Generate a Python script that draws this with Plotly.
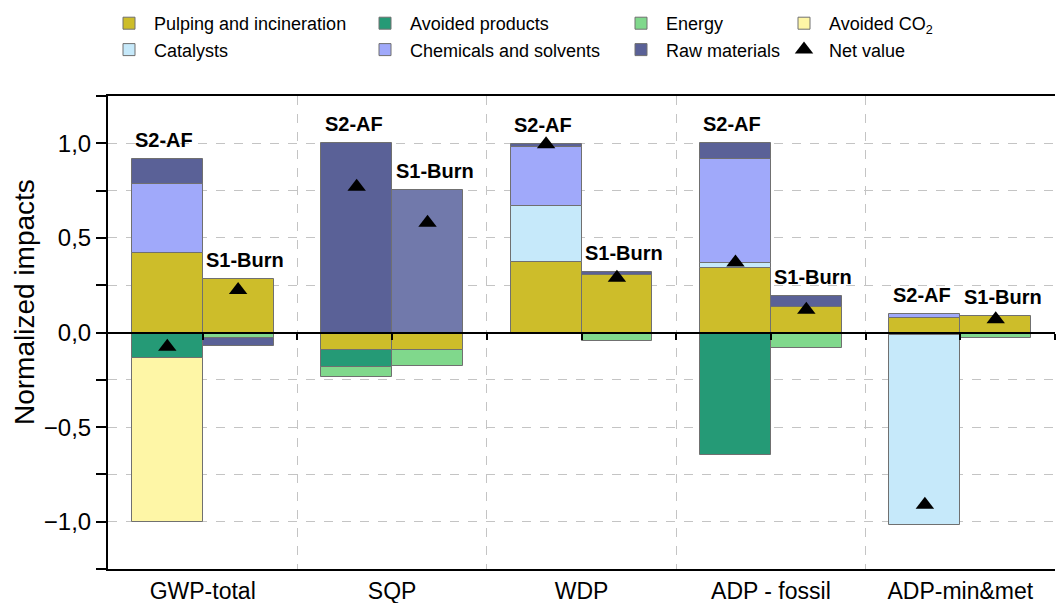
import numpy as np
import plotly.graph_objects as go

# Impact categories and the two scenarios compared in each
categories = ["GWP-total", "SQP", "WDP", "ADP - fossil", "ADP-min&met"]
scenarios = ["S2-AF", "S1-Burn"]

# Normalized contributions per process group (None = no contribution)
pulping_s2 = [0.418, -0.093, 0.372, 0.340, 0.077]
pulping_s1 = [0.285, -0.090, 0.305, 0.135, 0.085]

avoided_products_s2 = [-0.137, -0.090, None, -0.650, None]
avoided_products_s1 = [None, None, None, None, None]

energy_s2 = [None, -0.053, None, None, -0.015]
energy_s1 = [-0.030, -0.087, -0.045, -0.083, -0.030]

avoided_co2_s2 = [-0.863, None, None, None, None]
avoided_co2_s1 = [None, None, None, None, None]

catalysts_s2 = [None, None, 0.296, 0.025, -1.005]
catalysts_s1 = [None, None, None, None, None]

chemicals_s2 = [0.365, None, 0.312, 0.550, 0.021]
chemicals_s1 = [None, None, None, None, None]

raw_materials_s2 = [0.132, 1.000, 0.015, 0.085, None]
raw_materials_s1 = [-0.040, 0.751, 0.015, 0.058, None]

net_value_s2 = [-0.075, 0.770, 0.995, 0.370, -0.910]
net_value_s1 = [0.225, 0.580, 0.290, 0.120, 0.070]

# Bar layout within each category slot
BAR_W = 0.374
n = len(categories)
idx = np.arange(n)
x_s2 = idx - BAR_W / 2
x_s1 = idx + BAR_W / 2
x_all = np.concatenate([x_s2, x_s1])

FONT = "Liberation Sans, Arial, sans-serif"
OUTLINE = dict(color="#707070", width=1)

components = [
    ("Pulping and incineration", pulping_s2, pulping_s1, "#CDBD2A", "legend"),
    ("Avoided products", avoided_products_s2, avoided_products_s1, "#259A76", "legend2"),
    ("Energy", energy_s2, energy_s1, "#80D88C", "legend3"),
    ("Avoided CO<sub>2</sub>", avoided_co2_s2, avoided_co2_s1, "#FEF6A6", "legend4"),
    ("Catalysts", catalysts_s2, catalysts_s1, "#C6E9FA", "legend"),
    ("Chemicals and solvents", chemicals_s2, chemicals_s1, "#A0A9FA", "legend2"),
    ("Raw materials", raw_materials_s2, raw_materials_s1, "#5A6197", "legend3"),
]

fig = go.Figure()

for name, s2, s1, color, leg in components:
    colors = [color] * (2 * n)
    if name == "Raw materials":
        # the S1-Burn soil-quality bar is drawn in a lighter shade
        colors[n + categories.index("SQP")] = "#7179AB"
    fig.add_trace(go.Bar(
        x=x_all, y=list(s2) + list(s1), width=BAR_W,
        name=name, legend=leg,
        marker=dict(color=colors, line=OUTLINE),
    ))

fig.add_trace(go.Scatter(
    x=x_all, y=net_value_s2 + net_value_s1, xaxis="x2",
    mode="markers", name="Net value", legend="legend4",
    marker=dict(symbol="triangle-up", size=16, color="black"),
))

# Scenario labels above the positive stack of each bar
def pos_top(cols):
    arr = np.array([[v if (v is not None and v > 0) else 0 for v in c] for c in cols])
    return arr.sum(axis=0)

top_s2 = pos_top([c[1] for c in components])
top_s1 = pos_top([c[2] for c in components])
for i in range(n):
    for xv, top, lab, xs in ((x_s2[i], top_s2[i], scenarios[0], -3),
                              (x_s1[i], top_s1[i], scenarios[1], 7)):
        fig.add_annotation(x=xv, y=top, text=f"<b>{lab}</b>", showarrow=False,
                           yanchor="bottom", yshift=6, xshift=xs,
                           font=dict(size=20, color="black", family=FONT))

L, R, T, B = 108, 1, 96, 34
PW = 1056 - L - R
PH = 603 - T - B

def px_x(p):
    return (p - L) / PW

def px_y(p):
    return (603 - B - p) / PH

fig.add_annotation(text="Normalized impacts", textangle=-90, showarrow=False,
                   xref="paper", yref="paper", x=px_x(24), y=px_y(302),
                   xanchor="center", yanchor="middle",
                   font=dict(size=28, color="black", family=FONT))

grid = dict(gridcolor="#c4c4c4", griddash="dash", gridwidth=1)

fig.update_layout(
    width=1056, height=603,
    margin=dict(l=L, r=R, t=T, b=B, autoexpand=False),
    paper_bgcolor="white", plot_bgcolor="white",
    barmode="relative", bargap=0,
    separators=", ",
    font=dict(family=FONT, color="black"),
    showlegend=True,
    xaxis=dict(
        range=[-0.5, 4.5], tickvals=list(idx), ticktext=categories,
        ticks="", showgrid=False, zeroline=False, automargin=False,
        showline=True, mirror=True, linecolor="black", linewidth=2,
        tickfont=dict(size=23), ticklabelstandoff=0,
        minor=dict(tickvals=[0.5, 1.5, 2.5, 3.5, 4.5], showgrid=True, ticks="", **grid),
    ),
    xaxis2=dict(
        overlaying="x", anchor="free", position=0.5, side="bottom",
        range=[-0.5, 4.5], tickvals=list(np.arange(0, 4.51, 0.5)),
        ticks="outside", ticklen=6, tickwidth=2, tickcolor="black",
        showticklabels=False, showgrid=False, zeroline=False, automargin=False,
        showline=True, linecolor="black", linewidth=2,
    ),
    yaxis=dict(
        range=[-1.25, 1.25], tick0=0, dtick=0.5, tickformat=".1f",
        ticks="outside", ticklen=10, tickwidth=2, tickcolor="black",
        showline=True, linecolor="black", linewidth=2, zeroline=False,
        showgrid=True, tickfont=dict(size=24), automargin=False, **grid,
        minor=dict(dtick=0.25, ticks="outside", ticklen=10, tickwidth=2,
                   tickcolor="black", showgrid=True, **grid),
    ),
)

legend_common = dict(orientation="v", font=dict(size=18, family=FONT),
                     bgcolor="rgba(0,0,0,0)", itemwidth=40, tracegroupgap=0,
                     xanchor="left", yanchor="top", y=px_y(5))
for key, text_start in (("legend", 156), ("legend2", 412), ("legend3", 668), ("legend4", 831)):
    fig.update_layout({key: dict(x=px_x(text_start - 52), **legend_common)})

fig.write_html("out.html")
